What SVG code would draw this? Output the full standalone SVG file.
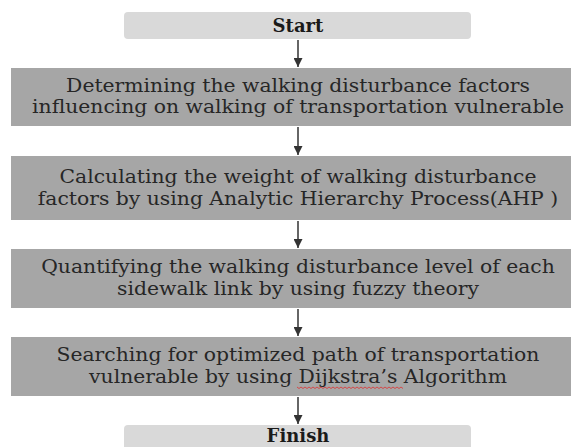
<svg xmlns="http://www.w3.org/2000/svg" width="571" height="447" viewBox="0 0 571 447">
<style>
.term{fill:#d9d9d9}
.box{fill:#a6a6a6}
.t{font-family:"DejaVu Serif","Liberation Serif",serif;font-size:18px;fill:#262626;text-anchor:middle}
.tb{font-family:"DejaVu Serif","Liberation Serif",serif;font-size:18px;fill:#1a1a1a;text-anchor:middle;font-weight:bold}
.c{stroke:#333;stroke-width:1.5;fill:none}
.sq{stroke:#e03030;stroke-width:0.8;fill:none}
</style>
<defs>
<marker id="ah" viewBox="0 0 10 10" refX="10" refY="5" markerWidth="6" markerHeight="6" markerUnits="strokeWidth" orient="auto">
<path d="M0,0 L10,5 L0,10 z" fill="#333"/>
</marker>
</defs>
<rect width="571" height="447" fill="#fff"/>
<g id="connectors">
<line class="c" x1="298" y1="40" x2="298" y2="67" marker-end="url(#ah)"/>
<line class="c" x1="298" y1="127" x2="298" y2="155" marker-end="url(#ah)"/>
<line class="c" x1="298" y1="221" x2="298" y2="248" marker-end="url(#ah)"/>
<line class="c" x1="298" y1="309" x2="298" y2="336" marker-end="url(#ah)"/>
<line class="c" x1="298" y1="397" x2="298" y2="424" marker-end="url(#ah)"/>
</g>
<g id="start">
<rect class="term" x="124" y="12" width="347" height="27" rx="4"/>
<text class="tb" x="298" y="32">Start</text>
</g>
<g id="step1">
<rect class="box" x="11" y="68" width="560" height="58"/>
<g transform="translate(298 0) scale(1.13 1)">
<text class="t" x="0" y="92">Determining the walking disturbance factors</text>
<text class="t" x="0" y="113">influencing on walking of transportation vulnerable</text>
</g>
</g>
<g id="step2">
<rect class="box" x="11" y="156" width="560" height="64"/>
<g transform="translate(298 0) scale(1.13 1)">
<text class="t" x="0" y="183">Calculating the weight of walking disturbance</text>
<text class="t" x="0" y="205">factors by using Analytic Hierarchy Process(AHP )</text>
</g>
</g>
<g id="step3">
<rect class="box" x="11" y="249" width="560" height="59"/>
<g transform="translate(298 0) scale(1.13 1)">
<text class="t" x="0" y="273">Quantifying the walking disturbance level of each</text>
<text class="t" x="0" y="295">sidewalk link by using fuzzy theory</text>
</g>
</g>
<g id="step4">
<rect class="box" x="11" y="337" width="560" height="59"/>
<g transform="translate(298 0) scale(1.13 1)">
<text class="t" x="0" y="361">Searching for optimized path of transportation</text>
<text class="t" x="0" y="383">vulnerable by using Dijkstra’s Algorithm</text>
</g>
<path class="sq" d="M297,387 l2,1.5 l2,-1.5 l2,1.5 l2,-1.5 l2,1.5 l2,-1.5 l2,1.5 l2,-1.5 l2,1.5 l2,-1.5 l2,1.5 l2,-1.5 l2,1.5 l2,-1.5 l2,1.5 l2,-1.5 l2,1.5 l2,-1.5 l2,1.5 l2,-1.5 l2,1.5 l2,-1.5 l2,1.5 l2,-1.5 l2,1.5 l2,-1.5 l2,1.5 l2,-1.5 l2,1.5 l2,-1.5 l2,1.5 l2,-1.5 l2,1.5 l2,-1.5 l2,1.5 l2,-1.5 l2,1.5 l2,-1.5 l2,1.5 l2,-1.5 l2,1.5 l2,-1.5 l2,1.5 l2,-1.5 l2,1.5 l2,-1.5 l2,1.5 l2,-1.5 l2,1.5 l2,-1.5 l2,1.5 l2,-1.5 l2,1.5"/>
</g>
<g id="finish">
<rect class="term" x="124" y="425" width="347" height="30" rx="4"/>
<text class="tb" x="298" y="442">Finish</text>
</g>
</svg>
